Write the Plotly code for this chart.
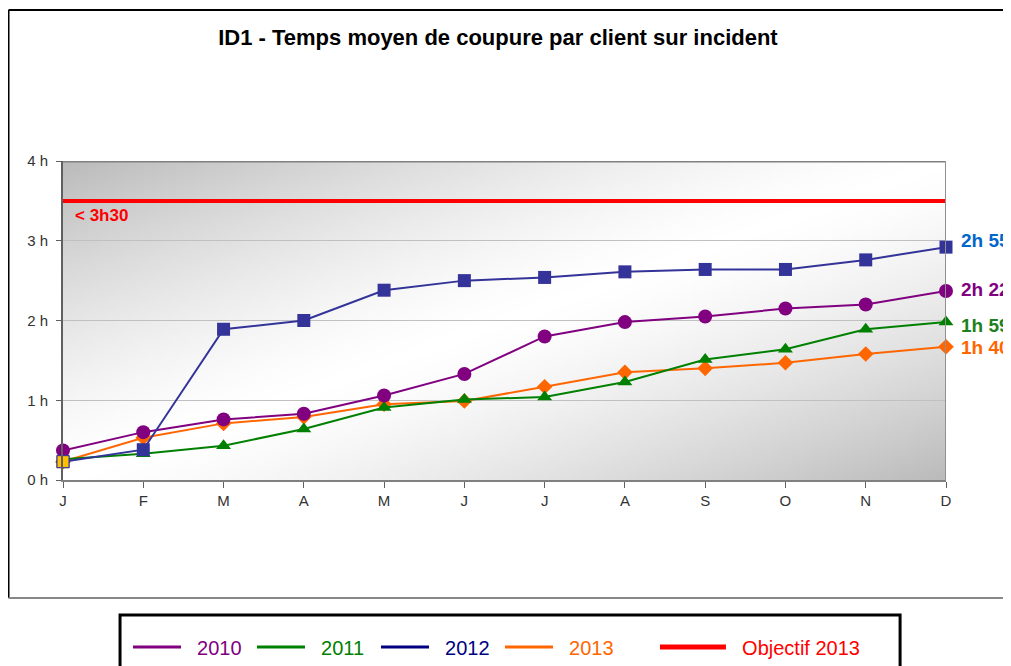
import base64
import struct
import zlib

import plotly.graph_objects as go

months = ['J', 'F', 'M', 'A', 'M', 'J', 'J', 'A', 'S', 'O', 'N', 'D']
hours_2010 = [0.37, 0.60, 0.76, 0.83, 1.06, 1.33, 1.80, 1.98, 2.05, 2.15, 2.20, 2.37]
hours_2011 = [0.26, 0.33, 0.43, 0.64, 0.91, 1.01, 1.04, 1.23, 1.51, 1.64, 1.89, 1.98]
hours_2012 = [0.23, 0.38, 1.89, 2.00, 2.38, 2.50, 2.54, 2.61, 2.64, 2.64, 2.76, 2.92]
hours_2013 = [0.23, 0.53, 0.71, 0.79, 0.95, 0.99, 1.17, 1.35, 1.40, 1.47, 1.58, 1.67]
objectif_2013 = 3.5
end_labels = ['2h 22', '1h 59', '2h 55', '1h 40']
y_ticks = [0, 1, 2, 3, 4]
y_ticktext = ['0 h', '1 h', '2 h', '3 h', '4 h']

x = list(range(len(months)))
FONT = 'Arial, Liberation Sans, sans-serif'
NBSP = '\u00a0'


def gradient_png(w=220, h=90):
    # grey diagonal gradient used as plot background (dark corners top-left / bottom-right)
    raw = bytearray()
    for j in range(h):
        raw.append(0)
        v = j / (h - 1)
        for i in range(w):
            u = i / (w - 1)
            t = abs(u + v - 1)
            g = int(round(255 - 68 * t ** 1.4))
            raw += bytes([g, g, g])

    def chunk(tag, data):
        c = struct.pack('>I', len(data)) + tag + data
        return c + struct.pack('>I', zlib.crc32(tag + data) & 0xffffffff)

    png = (b'\x89PNG\r\n\x1a\n'
           + chunk(b'IHDR', struct.pack('>IIBBBBB', w, h, 8, 2, 0, 0, 0))
           + chunk(b'IDAT', zlib.compress(bytes(raw)))
           + chunk(b'IEND', b''))
    return 'data:image/png;base64,' + base64.b64encode(png).decode()


series = [
    ('2013', hours_2013, '#FF6600', '#FF6600', 'diamond', 12),
    ('2011', hours_2011, '#008000', '#008000', 'triangle-up', 13),
    ('2010', hours_2010, '#800080', '#800080', 'circle', 14),
    ('2012', hours_2012, '#333399', '#000080', 'square', 13),
]
legend_order = ['2010', '2011', '2012', '2013']

fig = go.Figure()

# objective line
fig.add_trace(go.Scatter(
    x=[x[0], x[-1]], y=[objectif_2013, objectif_2013], mode='lines',
    line=dict(color='#FF0000', width=4), showlegend=False, cliponaxis=False,
))

for name, ys, color, leg_color, symbol, size in series:
    fig.add_trace(go.Scatter(
        x=x, y=ys, mode='lines+markers', name=name, showlegend=False,
        line=dict(color=color, width=2),
        marker=dict(symbol=symbol, size=size, color=color, line=dict(width=0)),
        cliponaxis=False,
    ))

# first 2013 point is drawn as a gold square in the original
fig.add_trace(go.Scatter(
    x=x[:1], y=hours_2013[:1], mode='markers', showlegend=False,
    marker=dict(symbol='square', size=12, color='#FFC000', line=dict(color='#333399', width=1)),
    cliponaxis=False,
))

# legend entries (line only)
leg_colors = {s[0]: s[3] for s in series}
for name in legend_order:
    c = leg_colors[name]
    fig.add_trace(go.Scatter(
        x=[None], y=[None], mode='lines', legend='legend',
        name=f'<span style="color:{c}">{NBSP * 2}{name}</span>',
        line=dict(color=c, width=3),
    ))
fig.add_trace(go.Scatter(
    x=[None], y=[None], mode='lines', legend='legend2',
    name=f'<span style="color:#FF0000">{NBSP * 2}Objectif 2013</span>',
    line=dict(color='#FF0000', width=5),
))

annotations = [
    dict(x=x[0], y=objectif_2013, xref='x', yref='y', text='<b>&lt; 3h30</b>',
         showarrow=False, xanchor='left', yanchor='middle', xshift=10, yshift=-15,
         font=dict(family=FONT, size=17, color='#FF0000')),
]
label_colors = ['#800080', '#208020', '#0066CC', '#FF6600']
label_shift = [1, -3, 7, -1]
for ys, lab, col, sh in zip([hours_2010, hours_2011, hours_2012, hours_2013],
                            end_labels, label_colors, label_shift):
    annotations.append(dict(
        x=x[-1], y=ys[-1], xref='x', yref='y', text=f'<b>{lab}</b>', showarrow=False,
        xanchor='left', yanchor='middle', xshift=13, yshift=sh,
        font=dict(family=FONT, size=19, color=col),
    ))

shapes = [
    # plot frame: top and right grey border
    dict(type='line', xref='x', yref='y', x0=x[0], x1=x[-1], y0=4, y1=4,
         line=dict(color='#808080', width=3)),
    dict(type='line', xref='x', yref='y', x0=x[-1], x1=x[-1], y0=0, y1=4,
         line=dict(color='#909090', width=2)),
    # outer chart border
    dict(type='line', xref='paper', yref='paper', x0=-0.0617, x1=1.1, y0=1.473, y1=1.473,
         line=dict(color='#000000', width=2)),
    dict(type='line', xref='paper', yref='paper', x0=-0.0617, x1=-0.0617, y0=1.473, y1=-0.370,
         line=dict(color='#000000', width=2)),
    dict(type='line', xref='paper', yref='paper', x0=-0.0617, x1=1.1, y0=-0.370, y1=-0.370,
         line=dict(color='#888888', width=2)),
    # legend box
    dict(type='rect', xref='paper', yref='paper', x0=0.0646, x1=0.948, y0=-0.423, y1=-0.62,
         line=dict(color='#000000', width=3), fillcolor='rgba(0,0,0,0)'),
]

fig.update_layout(
    width=1003, height=658,
    margin=dict(l=55, r=65, t=153, b=186, autoexpand=False),
    paper_bgcolor='white',
    plot_bgcolor='rgba(0,0,0,0)',
    font=dict(family=FONT, size=15, color='#333333'),
    title=dict(text='<b>ID1 - Temps moyen de coupure par client sur incident</b>',
               x=0.4926, xref='paper', xanchor='center', y=0.956, yanchor='middle',
               font=dict(family=FONT, size=22, color='#000000')),
    images=[dict(source=gradient_png(), xref='paper', yref='paper', x=0, y=1,
                 sizex=1, sizey=1, sizing='stretch', layer='below')],
    xaxis=dict(range=[x[0], x[-1]], tickvals=x, ticktext=months, showgrid=False,
               zeroline=False, showline=True, linecolor='#808080', linewidth=2,
               ticks='outside', ticklen=6, tickcolor='#606060', tickwidth=1,
               tickfont=dict(size=15, color='#333333')),
    yaxis=dict(range=[0, 4], tickvals=y_ticks, ticktext=y_ticktext, showgrid=True,
               gridcolor='#C0C0C0', gridwidth=1, zeroline=False, showline=True,
               linecolor='#606060', linewidth=2, ticks='outside', ticklen=5,
               tickcolor='#606060', ticklabelstandoff=5,
               tickfont=dict(size=15, color='#333333')),
    legend=dict(orientation='h', x=0.0736, xanchor='left', y=-0.5235, yanchor='middle',
                bgcolor='rgba(0,0,0,0)', borderwidth=0, itemwidth=48,
                entrywidth=61, font=dict(family=FONT, size=20)),
    legend2=dict(orientation='h', x=0.6704, xanchor='left', y=-0.5235, yanchor='middle',
                 bgcolor='rgba(0,0,0,0)', borderwidth=0, itemwidth=66,
                 font=dict(family=FONT, size=20)),
    annotations=annotations,
    shapes=shapes,
    showlegend=True,
)

fig.write_html('out.html')
